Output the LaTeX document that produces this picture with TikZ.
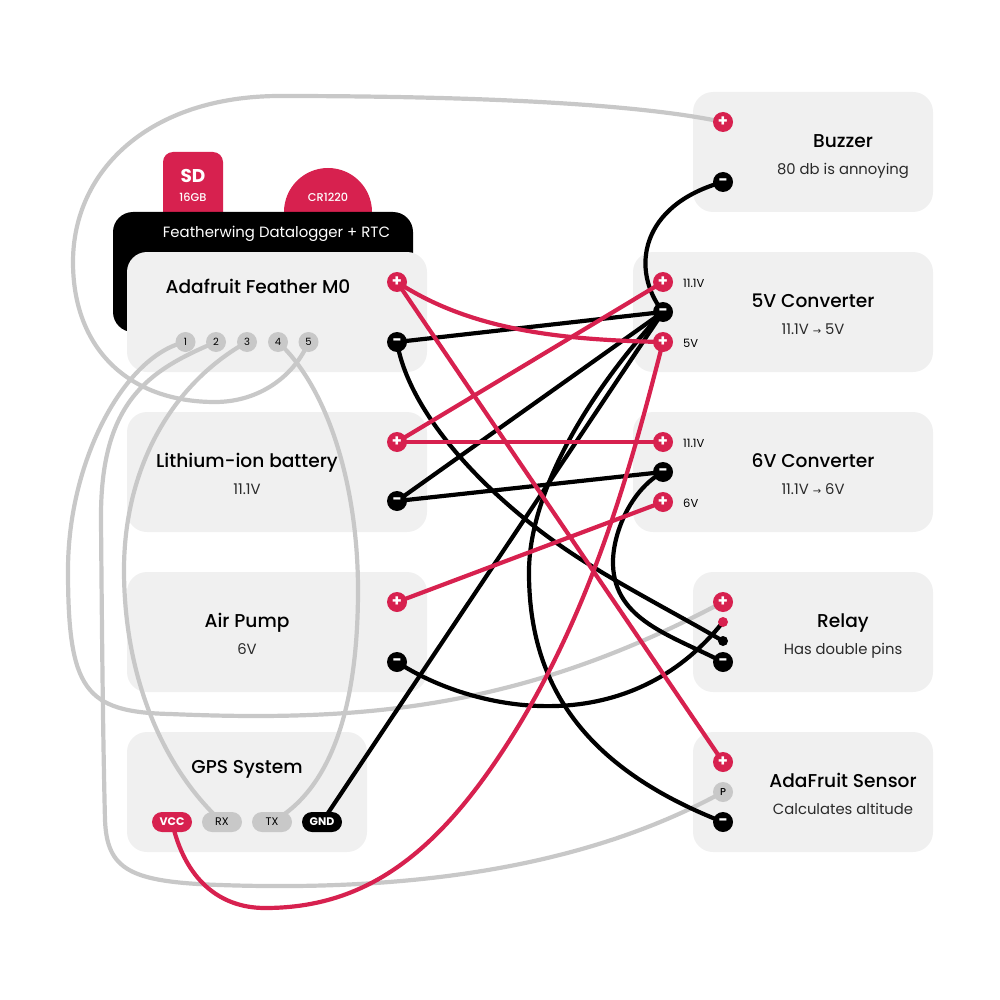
\documentclass[tikz,border=0pt]{standalone}
\usepackage{fontspec}
\setmainfont{Poppins}
\newfontfamily\mediumfont{Poppins Medium}
\newfontfamily\arrowfont{DejaVu Sans}
\usepackage[HTML]{xcolor}
\usepackage{tikz}
\definecolor{pinred}{HTML}{D7214F}
\definecolor{boxgray}{HTML}{F0F0F0}
\definecolor{wiregray}{HTML}{C8C8C8}
\definecolor{subgray}{HTML}{2A2A2A}
\pgfdeclarelayer{boxes}
\pgfdeclarelayer{wires}
\pgfsetlayers{boxes,wires,main}
\tikzset{
    devbox/.style={fill=boxgray, rounded corners=20pt, minimum height=120pt, inner sep=0pt},
    title/.style={anchor=base, yshift=-7.3pt, font=\mediumfont\fontsize{18.6}{20}\selectfont, text=black, inner sep=0pt},
    subtitle/.style={anchor=base, yshift=-5.5pt, font=\fontsize{14.8}{16}\selectfont, text=subgray, inner sep=0pt},
    volt/.style={anchor=west, font=\fontsize{11.5}{12}\selectfont, text=black, inner sep=0pt},
    pinplus/.style={circle, fill=pinred, text=white, minimum size=20pt, inner sep=0pt, font=\fontsize{16}{16}\selectfont\bfseries},
    pinminus/.style={circle, fill=black, text=white, minimum size=20pt, inner sep=0pt, font=\fontsize{16}{16}\selectfont\bfseries},
    pinnum/.style={circle, fill=wiregray, text=black, minimum size=20pt, inner sep=0pt, font=\fontsize{10}{12}\selectfont},
    pill/.style={rounded corners=10pt, minimum width=40pt, minimum height=20pt, inner sep=0pt, font=\fontsize{11}{12}\selectfont},
    dot/.style={circle, minimum size=10pt, inner sep=0pt},
    wire/.style={line width=4.2pt},
    redwire/.style={wire, draw=pinred},
    blackwire/.style={wire, draw=black},
    graywire/.style={wire, draw=wiregray},
}

\begin{document}
\begin{tikzpicture}[x=1pt, y=-1pt]
\useasboundingbox (0,0) rectangle (1000,1000);

\begin{pgfonlayer}{boxes}
% add-on board behind the feather
\fill[pinred] (163,212) -- (163,162) arc[start angle=180, end angle=270, radius=10] -- (213,152) arc[start angle=270, end angle=360, radius=10] -- (223,212) -- cycle;
\fill[pinred] (284,212) arc[start angle=180, end angle=360, radius=44] -- cycle;
\node[fill=black, rounded corners=20pt, minimum width=300pt, minimum height=120pt] (wing) at (263,272) {};

\node[devbox, minimum width=300pt] (feather) at (277,312) {};
\node[devbox, minimum width=300pt] (battery) at (277,472) {};
\node[devbox, minimum width=300pt] (pump) at (277,632) {};
\node[devbox, minimum width=240pt] (gps) at (247,792) {};
\node[devbox, minimum width=240pt] (buzzer) at (813,152) {};
\node[devbox, minimum width=300pt] (convfive) at (783,312) {};
\node[devbox, minimum width=300pt] (convsix) at (783,472) {};
\node[devbox, minimum width=240pt] (relay) at (813,632) {};
\node[devbox, minimum width=240pt] (sensor) at (813,792) {};
\end{pgfonlayer}

\node[text=white, inner sep=0pt, font=\fontsize{18.5}{18}\selectfont\bfseries] (sdname) at (193,176) {SD};
\node[text=white, inner sep=0pt, font=\mediumfont\fontsize{11.3}{12}\selectfont] (sdsize) at (193,197) {16GB};
\node[text=white, inner sep=0pt, font=\mediumfont\fontsize{11.3}{12}\selectfont] (cell) at (328,197) {CR1220};
\node[text=white, inner sep=0pt, font=\fontsize{14.9}{16}\selectfont] (wingname) at (276.5,233.5) {Featherwing Datalogger + RTC};

\node[title] (feathername) at (258,286) {Adafruit Feather M0};
\node[title] (batteryname) at (247,460) {Lithium-ion battery};
\node[subtitle] (batterysub) at (247,489) {11.1V};
\node[title] (pumpname) at (247,620) {Air Pump};
\node[subtitle] (pumpsub) at (247,649) {6V};
\node[title] (gpsname) at (247,766) {GPS System};
\node[title] (buzzername) at (843,140) {Buzzer};
\node[subtitle] (buzzersub) at (843,169) {80 db is annoying};
\node[title] (fivename) at (813,300) {5V Converter};
\node[subtitle] (fivesub) at (813,329) {11.1V {\arrowfont\fontsize{10}{12}\selectfont→} 5V};
\node[title] (sixname) at (813,460) {6V Converter};
\node[subtitle] (sixsub) at (813,489) {11.1V {\arrowfont\fontsize{10}{12}\selectfont→} 6V};
\node[title] (relayname) at (843,620) {Relay};
\node[subtitle] (relaysub) at (843,649) {Has double pins};
\node[title] (sensorname) at (843,780) {AdaFruit Sensor};
\node[subtitle] (sensorsub) at (843,809) {Calculates altitude};

\node[volt] (fivein) at (683,283) {11.1V};
\node[volt] (fiveout) at (683,343) {5V};
\node[volt] (sixin) at (683,443) {11.1V};
\node[volt] (sixout) at (683,503) {6V};

% pins
\node[pinplus] (featherplus) at (397,282) {+};
\node[pinminus] (featherminus) at (397,342) {−};
\foreach \n/\x in {1/185.5, 2/216, 3/247, 4/278, 5/308.5}
    \node[pinnum] (pin\n) at (\x,342) {\n};
\node[pinplus] (batteryplus) at (397,442) {+};
\node[pinminus] (batteryminus) at (397,501) {−};
\node[pinplus] (pumpplus) at (397,602) {+};
\node[pinminus] (pumpminus) at (397,662) {−};
\node[pill, fill=pinred, text=white, font=\fontsize{11}{12}\selectfont\bfseries] (vcc) at (172,822) {VCC};
\node[pill, fill=wiregray, text=black] (rx) at (222,822) {RX};
\node[pill, fill=wiregray, text=black] (tx) at (272,822) {TX};
\node[pill, fill=black, text=white, font=\fontsize{11}{12}\selectfont\bfseries] (gnd) at (322,822) {GND};
\node[pinplus] (buzzerplus) at (723,122) {+};
\node[pinminus] (buzzerminus) at (723,182) {−};
\node[pinplus] (fiveplusin) at (663,282) {+};
\node[pinminus] (fiveminus) at (663,312) {−};
\node[pinplus] (fiveplusout) at (663,342) {+};
\node[pinplus] (sixplusin) at (663,442) {+};
\node[pinminus] (sixminus) at (663,472) {−};
\node[pinplus] (sixplusout) at (663,502) {+};
\node[pinplus] (relayplus) at (723,602) {+};
\node[dot, fill=pinred] (relayreddot) at (723,622) {};
\node[dot, fill=black] (relayblackdot) at (723,641) {};
\node[pinminus] (relayminus) at (723,662) {−};
\node[pinplus] (sensorplus) at (723,762) {+};
\node[pinnum, font=\mediumfont\fontsize{10}{12}\selectfont] (sensorp) at (723,792) {P};
\node[pinminus] (sensorminus) at (723,822) {−};

\begin{pgfonlayer}{wires}
% gray signal lines
\draw[graywire] (buzzerplus.center) .. controls (620,100) and (420,96) .. (280,96) .. controls (150,96) and (73,170) .. (73,262) .. controls (73,350) and (130,402) .. (215,402) .. controls (260,402) and (295,375) .. (pin5.center);
\draw[graywire] (pin1.center) .. controls (125,355) and (68,460) .. (68,570) .. controls (68,690) and (85,712) .. (170,714) .. controls (360,722) and (520,710) .. (relayplus.center);
\draw[graywire] (pin2.center) .. controls (150,370) and (100,400) .. (101,520) .. controls (102,640) and (103,740) .. (105,820) .. controls (107,870) and (130,882) .. (220,885) .. controls (420,892) and (590,865) .. (sensorp.center);
\draw[graywire] (pin3.center) .. controls (170,385) and (124,470) .. (124,570) .. controls (124,680) and (165,770) .. (rx.center);
\draw[graywire] (pin4.center) .. controls (330,390) and (358,490) .. (358,590) .. controls (358,710) and (330,790) .. (tx.center);

% black ground lines
\draw[blackwire] (featherminus.center) -- (fiveminus.center);
\draw[blackwire] (batteryminus.center) -- (fiveminus.center);
\draw[blackwire] (batteryminus.center) -- (sixminus.center);
\draw[blackwire] (gnd.center) -- (fiveminus.center);
\draw[blackwire] (buzzerminus.center) .. controls (640,205) and (630,270) .. (fiveminus.center);
\draw[blackwire] (featherminus.center) .. controls (410,420) and (500,510) .. (590,565) .. controls (630,590) and (680,616) .. (relayblackdot.center);
\draw[blackwire] (pumpminus.center) .. controls (470,710) and (625,745) .. (relayreddot.center);
\draw[blackwire] (sixminus.center) .. controls (630,490) and (612,535) .. (613,565) .. controls (615,620) and (670,635) .. (relayminus.center);
\draw[blackwire] (fiveminus.center) .. controls (590,390) and (530,490) .. (529,570) .. controls (528,690) and (590,770) .. (sensorminus.center);

% red power lines
\draw[redwire] (featherplus.center) .. controls (470,330) and (560,340) .. (fiveplusout.center);
\draw[redwire] (featherplus.center) -- (sensorplus.center);
\draw[redwire] (batteryplus.center) -- (fiveplusin.center);
\draw[redwire] (batteryplus.center) -- (sixplusin.center);
\draw[redwire] (pumpplus.center) -- (sixplusout.center);
\draw[redwire] (vcc.center) .. controls (185,880) and (220,908) .. (265,908) .. controls (360,908) and (430,860) .. (500,755) .. controls (590,620) and (630,470) .. (fiveplusout.center);
\end{pgfonlayer}

\end{tikzpicture}
\end{document}
